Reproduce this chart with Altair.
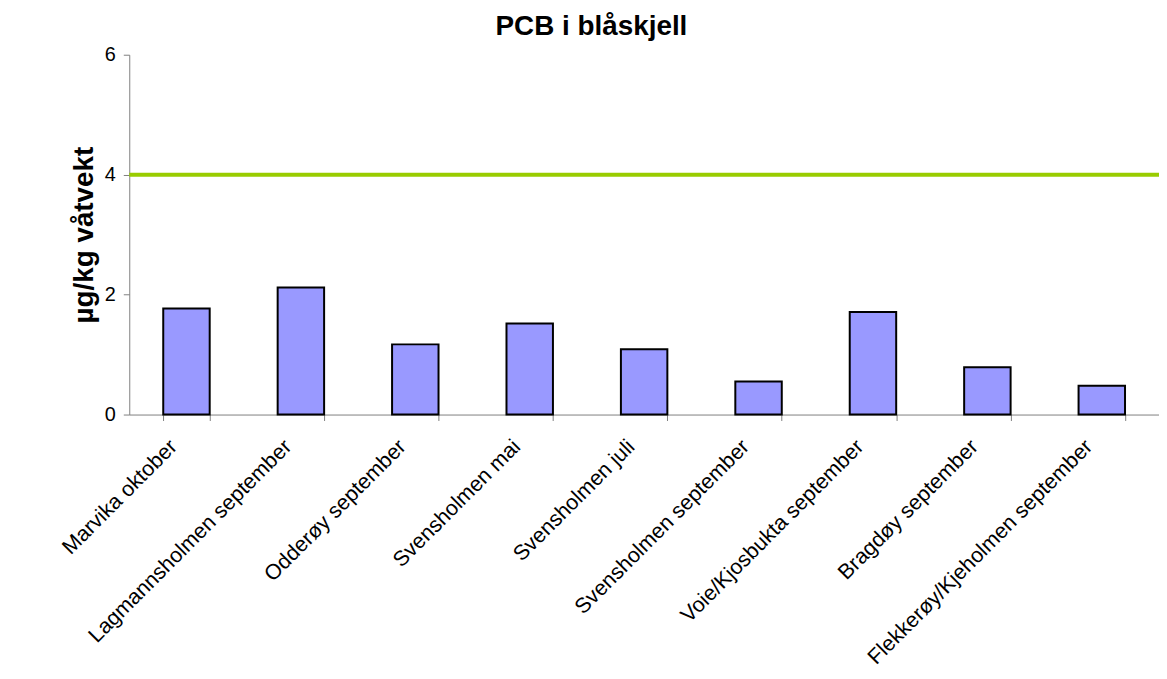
import altair as alt
import pandas as pd

categories = [
    "Marvika oktober",
    "Lagmannsholmen september",
    "Odderøy september",
    "Svensholmen mai",
    "Svensholmen juli",
    "Svensholmen september",
    "Voie/Kjosbukta september",
    "Bragdøy september",
    "Flekkerøy/Kjeholmen september",
]
values = [1.77, 2.12, 1.17, 1.52, 1.09, 0.55, 1.71, 0.79, 0.48]
limit_value = [4]
y_ticks = [0, 2, 4, 6]

bars_df = pd.DataFrame({"sted": categories, "pcb": values})
limit_df = pd.DataFrame({"pcb": limit_value})

FONT = "Liberation Sans"
GRAY = "#808080"

y_axis = alt.Axis(
    values=y_ticks,
    format="d",
    title="µg/kg våtvekt",
    titleFont=FONT,
    titleFontSize=28,
    titleFontWeight="bold",
    titleColor="black",
    titlePadding=6,
    grid=False,
    labelFont=FONT,
    labelFontSize=20,
    labelColor="black",
    labelPadding=8,
    tickSize=6,
    tickColor=GRAY,
    domainColor=GRAY,
)

bars = alt.Chart(bars_df).mark_bar(
    color="#9999FF", stroke="black", strokeWidth=2
).encode(
    x=alt.X(
        "sted:N",
        sort=categories,
        scale=alt.Scale(paddingInner=0.594, paddingOuter=0.297),
        axis=alt.Axis(
            title=None,
            labelAngle=-45,
            labelAlign="right",
            labelBaseline="middle",
            labelFont=FONT,
            labelFontSize=21.5,
            labelColor="black",
            labelOffset=-13,
            labelPadding=23,
            labelLimit=400,
            tickBand="extent",
            tickSize=6,
            tickColor=GRAY,
            domainColor=GRAY,
        ),
    ),
    y=alt.Y("pcb:Q", scale=alt.Scale(domain=[0, 6], nice=False), axis=y_axis),
)

rule = alt.Chart(limit_df).mark_rule(color="#99CC00", strokeWidth=4).encode(
    y=alt.Y("pcb:Q")
)

chart = (
    alt.layer(bars, rule)
    .properties(
        width=1036,
        height=362,
        autosize=alt.AutoSizeParams(type="none"),
        title=alt.Title(
            "PCB i blåskjell",
            font=FONT,
            fontSize=28,
            fontWeight="bold",
            color="black",
            anchor="middle",
            frame="group",
            dx=-53,
            offset=4,
        ),
        padding={"left": 122, "top": 45, "right": 0, "bottom": 256},
    )
    .configure_view(stroke=None)
)

chart.save("out.html", embed_options={"renderer": "svg", "actions": False})
